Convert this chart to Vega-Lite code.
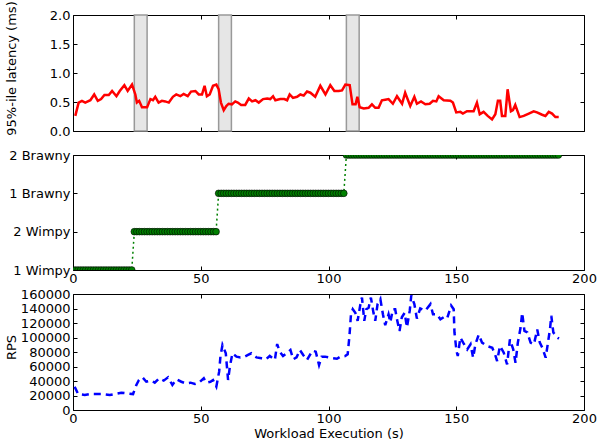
{
"$schema":"https://vega.github.io/schema/vega-lite/v6.json",
"background":"white",
"padding":{"left":4,"top":0,"right":0,"bottom":0},
"config":{"font":"DejaVu Sans","view":{"stroke":"black","strokeWidth":1},
"axis":{"labelFont":"DejaVu Sans","titleFont":"DejaVu Sans","labelFontSize":13,"titleFontSize":13,"titleFontWeight":"normal","labelColor":"black","titleColor":"black","domain":false,"grid":false,"tickColor":"black","tickSize":-4,"tickWidth":1,"labelPadding":5,"minExtent":0,"labelFlush":false,"labelOverlap":false},
"axisLeft":{"labelPadding":7},
"axisBottom":{"labelPadding":6}},
"bounds":"flush",
"spacing":24,
"datasets":{
"spans":[{"start":24,"end":29},{"start":57,"end":62},{"start":107,"end":112}],
"latency":[{"t":0.9,"ms":0.26},{"t":2.2,"ms":0.49},{"t":3.5,"ms":0.52},{"t":4.8,"ms":0.49},{"t":6.8,"ms":0.53},{"t":8.3,"ms":0.63},{"t":9.7,"ms":0.52},{"t":11,"ms":0.55},{"t":12.3,"ms":0.62},{"t":14,"ms":0.62},{"t":15.3,"ms":0.69},{"t":17,"ms":0.6},{"t":18.3,"ms":0.69},{"t":20.1,"ms":0.79},{"t":21.4,"ms":0.69},{"t":23.1,"ms":0.8},{"t":24.4,"ms":0.63},{"t":25,"ms":0.49},{"t":25.9,"ms":0.52},{"t":27,"ms":0.41},{"t":29,"ms":0.41},{"t":30.3,"ms":0.55},{"t":31.3,"ms":0.53},{"t":32.2,"ms":0.59},{"t":33.5,"ms":0.49},{"t":34.8,"ms":0.52},{"t":36.1,"ms":0.51},{"t":37.5,"ms":0.49},{"t":39.1,"ms":0.59},{"t":40.4,"ms":0.63},{"t":42,"ms":0.6},{"t":43.3,"ms":0.64},{"t":44.9,"ms":0.6},{"t":46.2,"ms":0.68},{"t":47.9,"ms":0.69},{"t":49.2,"ms":0.63},{"t":50.5,"ms":0.63},{"t":51.5,"ms":0.78},{"t":52.4,"ms":0.6},{"t":53.5,"ms":0.63},{"t":54.8,"ms":0.78},{"t":56.1,"ms":0.8},{"t":57,"ms":0.72},{"t":57.9,"ms":0.49},{"t":59,"ms":0.36},{"t":60,"ms":0.43},{"t":60.9,"ms":0.47},{"t":62.2,"ms":0.46},{"t":63.5,"ms":0.51},{"t":64.5,"ms":0.49},{"t":65.8,"ms":0.45},{"t":67.4,"ms":0.45},{"t":68.8,"ms":0.56},{"t":70.1,"ms":0.51},{"t":71.4,"ms":0.53},{"t":72.7,"ms":0.49},{"t":74.4,"ms":0.55},{"t":76,"ms":0.56},{"t":77.2,"ms":0.55},{"t":78.3,"ms":0.6},{"t":79.2,"ms":0.53},{"t":81.1,"ms":0.55},{"t":82.7,"ms":0.55},{"t":83.8,"ms":0.53},{"t":84.8,"ms":0.63},{"t":86.1,"ms":0.57},{"t":87.7,"ms":0.59},{"t":89,"ms":0.63},{"t":90.3,"ms":0.61},{"t":91.6,"ms":0.68},{"t":92.9,"ms":0.66},{"t":94.8,"ms":0.59},{"t":96.8,"ms":0.78},{"t":98.8,"ms":0.63},{"t":100.7,"ms":0.79},{"t":102.3,"ms":0.69},{"t":104,"ms":0.69},{"t":105.3,"ms":0.7},{"t":106.6,"ms":0.8},{"t":108.3,"ms":0.79},{"t":109.4,"ms":0.46},{"t":110.6,"ms":0.46},{"t":111.3,"ms":0.59},{"t":112.2,"ms":0.41},{"t":113.8,"ms":0.39},{"t":115.7,"ms":0.4},{"t":117,"ms":0.46},{"t":118.3,"ms":0.4},{"t":119.6,"ms":0.4},{"t":120.9,"ms":0.53},{"t":122.2,"ms":0.54},{"t":123.5,"ms":0.55},{"t":125.2,"ms":0.47},{"t":126.8,"ms":0.6},{"t":128.8,"ms":0.47},{"t":130,"ms":0.66},{"t":132,"ms":0.43},{"t":133.6,"ms":0.59},{"t":134.6,"ms":0.47},{"t":136.2,"ms":0.51},{"t":137.9,"ms":0.46},{"t":139.6,"ms":0.47},{"t":140.9,"ms":0.52},{"t":142.2,"ms":0.51},{"t":143.1,"ms":0.6},{"t":145.1,"ms":0.53},{"t":147.7,"ms":0.52},{"t":148.7,"ms":0.49},{"t":150,"ms":0.32},{"t":151.6,"ms":0.33},{"t":152.6,"ms":0.3},{"t":154.2,"ms":0.34},{"t":156.8,"ms":0.34},{"t":158.1,"ms":0.49},{"t":159.2,"ms":0.29},{"t":160.7,"ms":0.33},{"t":162.3,"ms":0.26},{"t":164,"ms":0.2},{"t":165.3,"ms":0.29},{"t":166.3,"ms":0.52},{"t":167.2,"ms":0.52},{"t":167.9,"ms":0.26},{"t":169.2,"ms":0.26},{"t":170.1,"ms":0.72},{"t":171.4,"ms":0.34},{"t":172.2,"ms":0.36},{"t":173.1,"ms":0.45},{"t":174.8,"ms":0.24},{"t":176.4,"ms":0.26},{"t":178.4,"ms":0.3},{"t":180.3,"ms":0.34},{"t":181.6,"ms":0.32},{"t":183.6,"ms":0.28},{"t":184.9,"ms":0.26},{"t":186.2,"ms":0.33},{"t":187.5,"ms":0.3},{"t":188.8,"ms":0.24},{"t":190.1,"ms":0.24}],
"rps":[{"t":0.65,"rps":32200},{"t":2,"rps":22000},{"t":4.6,"rps":20700},{"t":6.5,"rps":22000},{"t":9.1,"rps":22000},{"t":11.7,"rps":22000},{"t":14.4,"rps":20700},{"t":16.3,"rps":22000},{"t":18.9,"rps":23900},{"t":20.9,"rps":23000},{"t":23.5,"rps":22000},{"t":24.8,"rps":34500},{"t":25.8,"rps":41400},{"t":27.2,"rps":45000},{"t":28.7,"rps":39000},{"t":30.7,"rps":40500},{"t":32,"rps":37700},{"t":33.7,"rps":43700},{"t":35.5,"rps":40500},{"t":37.2,"rps":45000},{"t":38.9,"rps":34500},{"t":40.5,"rps":42300},{"t":42.4,"rps":39000},{"t":44.1,"rps":36800},{"t":46,"rps":37700},{"t":47.7,"rps":35900},{"t":49.3,"rps":37700},{"t":51.2,"rps":43700},{"t":52.2,"rps":37700},{"t":53.8,"rps":39000},{"t":54.8,"rps":41400},{"t":56.1,"rps":32200},{"t":57.2,"rps":52900},{"t":57.7,"rps":73600},{"t":58.5,"rps":89700},{"t":59.8,"rps":78200},{"t":60.7,"rps":41400},{"t":61.4,"rps":59800},{"t":62.4,"rps":78200},{"t":64,"rps":73600},{"t":65.5,"rps":72600},{"t":67.2,"rps":73600},{"t":68.5,"rps":75900},{"t":69.8,"rps":78200},{"t":71.8,"rps":72600},{"t":73.8,"rps":71300},{"t":75.5,"rps":69900},{"t":77,"rps":74500},{"t":79,"rps":69000},{"t":79.9,"rps":91000},{"t":80.9,"rps":80500},{"t":82.2,"rps":74500},{"t":83.6,"rps":78200},{"t":85.1,"rps":82800},{"t":86.2,"rps":69900},{"t":87.5,"rps":72600},{"t":88.8,"rps":82800},{"t":90.1,"rps":75900},{"t":91.6,"rps":69000},{"t":93.7,"rps":81800},{"t":95,"rps":80500},{"t":96.3,"rps":62100},{"t":97.3,"rps":73600},{"t":98.6,"rps":73600},{"t":100.7,"rps":72100},{"t":103.3,"rps":70700},{"t":104.6,"rps":73500},{"t":106.5,"rps":74400},{"t":107.5,"rps":76700},{"t":108.2,"rps":102000},{"t":108.8,"rps":132000},{"t":109.5,"rps":139000},{"t":110.5,"rps":134000},{"t":111.4,"rps":123000},{"t":112.4,"rps":144000},{"t":113.1,"rps":155000},{"t":114,"rps":123000},{"t":114.8,"rps":139000},{"t":115.7,"rps":141000},{"t":116.6,"rps":155000},{"t":117.6,"rps":134000},{"t":118.3,"rps":123000},{"t":119.2,"rps":146000},{"t":120.3,"rps":153000},{"t":121.3,"rps":132000},{"t":122.2,"rps":117000},{"t":123.5,"rps":132000},{"t":124.2,"rps":121000},{"t":125.2,"rps":139000},{"t":126.1,"rps":139000},{"t":126.8,"rps":125000},{"t":127.8,"rps":109000},{"t":128.7,"rps":128000},{"t":129.8,"rps":134000},{"t":130.7,"rps":114000},{"t":131.8,"rps":137000},{"t":132.4,"rps":158000},{"t":133.6,"rps":146000},{"t":134.6,"rps":126000},{"t":135.9,"rps":140000},{"t":137.9,"rps":137000},{"t":139.9,"rps":146000},{"t":140.9,"rps":132000},{"t":142.5,"rps":132000},{"t":143.8,"rps":125000},{"t":145.1,"rps":128000},{"t":146.4,"rps":126000},{"t":148,"rps":144000},{"t":149,"rps":139000},{"t":149.3,"rps":107000},{"t":150.1,"rps":81300},{"t":150.6,"rps":74400},{"t":151.6,"rps":99800},{"t":152.7,"rps":92900},{"t":154.3,"rps":83600},{"t":155.6,"rps":90600},{"t":156.6,"rps":72100},{"t":157.5,"rps":90600},{"t":158.8,"rps":104000},{"t":160.1,"rps":92900},{"t":162.1,"rps":88200},{"t":164.1,"rps":85900},{"t":165.4,"rps":74400},{"t":166,"rps":67500},{"t":167.1,"rps":88200},{"t":168.6,"rps":79000},{"t":169.9,"rps":62800},{"t":171,"rps":97500},{"t":172.3,"rps":83600},{"t":173.2,"rps":65100},{"t":174.1,"rps":92900},{"t":175.2,"rps":114000},{"t":175.8,"rps":134000},{"t":176.7,"rps":109000},{"t":177.8,"rps":107000},{"t":179.1,"rps":92900},{"t":180.4,"rps":90600},{"t":181.7,"rps":111000},{"t":182.7,"rps":92900},{"t":183.7,"rps":85900},{"t":185,"rps":72100},{"t":185.9,"rps":92900},{"t":186.7,"rps":112000},{"t":187.2,"rps":130000},{"t":188,"rps":107000},{"t":189.6,"rps":99800},{"t":190.2,"rps":98400}],
"states":[{"t":0,"cfg":"1 Wimpy"},{"t":1,"cfg":"1 Wimpy"},{"t":2,"cfg":"1 Wimpy"},{"t":3,"cfg":"1 Wimpy"},{"t":4,"cfg":"1 Wimpy"},{"t":5,"cfg":"1 Wimpy"},{"t":6,"cfg":"1 Wimpy"},{"t":7,"cfg":"1 Wimpy"},{"t":8,"cfg":"1 Wimpy"},{"t":9,"cfg":"1 Wimpy"},{"t":10,"cfg":"1 Wimpy"},{"t":11,"cfg":"1 Wimpy"},{"t":12,"cfg":"1 Wimpy"},{"t":13,"cfg":"1 Wimpy"},{"t":14,"cfg":"1 Wimpy"},{"t":15,"cfg":"1 Wimpy"},{"t":16,"cfg":"1 Wimpy"},{"t":17,"cfg":"1 Wimpy"},{"t":18,"cfg":"1 Wimpy"},{"t":19,"cfg":"1 Wimpy"},{"t":20,"cfg":"1 Wimpy"},{"t":21,"cfg":"1 Wimpy"},{"t":22,"cfg":"1 Wimpy"},{"t":23,"cfg":"1 Wimpy"},{"t":24,"cfg":"2 Wimpy"},{"t":25,"cfg":"2 Wimpy"},{"t":26,"cfg":"2 Wimpy"},{"t":27,"cfg":"2 Wimpy"},{"t":28,"cfg":"2 Wimpy"},{"t":29,"cfg":"2 Wimpy"},{"t":30,"cfg":"2 Wimpy"},{"t":31,"cfg":"2 Wimpy"},{"t":32,"cfg":"2 Wimpy"},{"t":33,"cfg":"2 Wimpy"},{"t":34,"cfg":"2 Wimpy"},{"t":35,"cfg":"2 Wimpy"},{"t":36,"cfg":"2 Wimpy"},{"t":37,"cfg":"2 Wimpy"},{"t":38,"cfg":"2 Wimpy"},{"t":39,"cfg":"2 Wimpy"},{"t":40,"cfg":"2 Wimpy"},{"t":41,"cfg":"2 Wimpy"},{"t":42,"cfg":"2 Wimpy"},{"t":43,"cfg":"2 Wimpy"},{"t":44,"cfg":"2 Wimpy"},{"t":45,"cfg":"2 Wimpy"},{"t":46,"cfg":"2 Wimpy"},{"t":47,"cfg":"2 Wimpy"},{"t":48,"cfg":"2 Wimpy"},{"t":49,"cfg":"2 Wimpy"},{"t":50,"cfg":"2 Wimpy"},{"t":51,"cfg":"2 Wimpy"},{"t":52,"cfg":"2 Wimpy"},{"t":53,"cfg":"2 Wimpy"},{"t":54,"cfg":"2 Wimpy"},{"t":55,"cfg":"2 Wimpy"},{"t":56,"cfg":"2 Wimpy"},{"t":57,"cfg":"1 Brawny"},{"t":58,"cfg":"1 Brawny"},{"t":59,"cfg":"1 Brawny"},{"t":60,"cfg":"1 Brawny"},{"t":61,"cfg":"1 Brawny"},{"t":62,"cfg":"1 Brawny"},{"t":63,"cfg":"1 Brawny"},{"t":64,"cfg":"1 Brawny"},{"t":65,"cfg":"1 Brawny"},{"t":66,"cfg":"1 Brawny"},{"t":67,"cfg":"1 Brawny"},{"t":68,"cfg":"1 Brawny"},{"t":69,"cfg":"1 Brawny"},{"t":70,"cfg":"1 Brawny"},{"t":71,"cfg":"1 Brawny"},{"t":72,"cfg":"1 Brawny"},{"t":73,"cfg":"1 Brawny"},{"t":74,"cfg":"1 Brawny"},{"t":75,"cfg":"1 Brawny"},{"t":76,"cfg":"1 Brawny"},{"t":77,"cfg":"1 Brawny"},{"t":78,"cfg":"1 Brawny"},{"t":79,"cfg":"1 Brawny"},{"t":80,"cfg":"1 Brawny"},{"t":81,"cfg":"1 Brawny"},{"t":82,"cfg":"1 Brawny"},{"t":83,"cfg":"1 Brawny"},{"t":84,"cfg":"1 Brawny"},{"t":85,"cfg":"1 Brawny"},{"t":86,"cfg":"1 Brawny"},{"t":87,"cfg":"1 Brawny"},{"t":88,"cfg":"1 Brawny"},{"t":89,"cfg":"1 Brawny"},{"t":90,"cfg":"1 Brawny"},{"t":91,"cfg":"1 Brawny"},{"t":92,"cfg":"1 Brawny"},{"t":93,"cfg":"1 Brawny"},{"t":94,"cfg":"1 Brawny"},{"t":95,"cfg":"1 Brawny"},{"t":96,"cfg":"1 Brawny"},{"t":97,"cfg":"1 Brawny"},{"t":98,"cfg":"1 Brawny"},{"t":99,"cfg":"1 Brawny"},{"t":100,"cfg":"1 Brawny"},{"t":101,"cfg":"1 Brawny"},{"t":102,"cfg":"1 Brawny"},{"t":103,"cfg":"1 Brawny"},{"t":104,"cfg":"1 Brawny"},{"t":105,"cfg":"1 Brawny"},{"t":106,"cfg":"1 Brawny"},{"t":107,"cfg":"2 Brawny"},{"t":108,"cfg":"2 Brawny"},{"t":109,"cfg":"2 Brawny"},{"t":110,"cfg":"2 Brawny"},{"t":111,"cfg":"2 Brawny"},{"t":112,"cfg":"2 Brawny"},{"t":113,"cfg":"2 Brawny"},{"t":114,"cfg":"2 Brawny"},{"t":115,"cfg":"2 Brawny"},{"t":116,"cfg":"2 Brawny"},{"t":117,"cfg":"2 Brawny"},{"t":118,"cfg":"2 Brawny"},{"t":119,"cfg":"2 Brawny"},{"t":120,"cfg":"2 Brawny"},{"t":121,"cfg":"2 Brawny"},{"t":122,"cfg":"2 Brawny"},{"t":123,"cfg":"2 Brawny"},{"t":124,"cfg":"2 Brawny"},{"t":125,"cfg":"2 Brawny"},{"t":126,"cfg":"2 Brawny"},{"t":127,"cfg":"2 Brawny"},{"t":128,"cfg":"2 Brawny"},{"t":129,"cfg":"2 Brawny"},{"t":130,"cfg":"2 Brawny"},{"t":131,"cfg":"2 Brawny"},{"t":132,"cfg":"2 Brawny"},{"t":133,"cfg":"2 Brawny"},{"t":134,"cfg":"2 Brawny"},{"t":135,"cfg":"2 Brawny"},{"t":136,"cfg":"2 Brawny"},{"t":137,"cfg":"2 Brawny"},{"t":138,"cfg":"2 Brawny"},{"t":139,"cfg":"2 Brawny"},{"t":140,"cfg":"2 Brawny"},{"t":141,"cfg":"2 Brawny"},{"t":142,"cfg":"2 Brawny"},{"t":143,"cfg":"2 Brawny"},{"t":144,"cfg":"2 Brawny"},{"t":145,"cfg":"2 Brawny"},{"t":146,"cfg":"2 Brawny"},{"t":147,"cfg":"2 Brawny"},{"t":148,"cfg":"2 Brawny"},{"t":149,"cfg":"2 Brawny"},{"t":150,"cfg":"2 Brawny"},{"t":151,"cfg":"2 Brawny"},{"t":152,"cfg":"2 Brawny"},{"t":153,"cfg":"2 Brawny"},{"t":154,"cfg":"2 Brawny"},{"t":155,"cfg":"2 Brawny"},{"t":156,"cfg":"2 Brawny"},{"t":157,"cfg":"2 Brawny"},{"t":158,"cfg":"2 Brawny"},{"t":159,"cfg":"2 Brawny"},{"t":160,"cfg":"2 Brawny"},{"t":161,"cfg":"2 Brawny"},{"t":162,"cfg":"2 Brawny"},{"t":163,"cfg":"2 Brawny"},{"t":164,"cfg":"2 Brawny"},{"t":165,"cfg":"2 Brawny"},{"t":166,"cfg":"2 Brawny"},{"t":167,"cfg":"2 Brawny"},{"t":168,"cfg":"2 Brawny"},{"t":169,"cfg":"2 Brawny"},{"t":170,"cfg":"2 Brawny"},{"t":171,"cfg":"2 Brawny"},{"t":172,"cfg":"2 Brawny"},{"t":173,"cfg":"2 Brawny"},{"t":174,"cfg":"2 Brawny"},{"t":175,"cfg":"2 Brawny"},{"t":176,"cfg":"2 Brawny"},{"t":177,"cfg":"2 Brawny"},{"t":178,"cfg":"2 Brawny"},{"t":179,"cfg":"2 Brawny"},{"t":180,"cfg":"2 Brawny"},{"t":181,"cfg":"2 Brawny"},{"t":182,"cfg":"2 Brawny"},{"t":183,"cfg":"2 Brawny"},{"t":184,"cfg":"2 Brawny"},{"t":185,"cfg":"2 Brawny"},{"t":186,"cfg":"2 Brawny"},{"t":187,"cfg":"2 Brawny"},{"t":188,"cfg":"2 Brawny"},{"t":189,"cfg":"2 Brawny"},{"t":190,"cfg":"2 Brawny"}]
},
"vconcat":[
{"width":511,"height":116,
 "layer":[
  {"data":{"name":"spans"},"mark":{"type":"rect","fill":"#e6e6e6","stroke":"#999999","strokeWidth":1.5},
   "encoding":{"x":{"field":"start","type":"quantitative","scale":{"domain":[0,200]},"axis":{"orient":"bottom","values":[0,50,100,150,200],"labels":false,"title":null}},"x2":{"field":"end"}}},
  {"data":{"name":"latency"},"mark":{"type":"line","color":"#ff0000","strokeWidth":2.5},
   "encoding":{"x":{"field":"t","type":"quantitative","scale":{"domain":[0,200]},"axis":{"orient":"top","values":[0,50,100,150,200],"labels":false,"title":null}},
   "y":{"field":"ms","type":"quantitative","scale":{"domain":[0,2]},"axis":{"orient":"left","values":[0,0.5,1,1.5,2],"format":".1f","title":"95%-ile latency (ms)","titlePadding":31,"titleY":53,"titleAlign":"center","titleAngle":270}}}},
  {"data":{"name":"latency"},"mark":{"type":"line","opacity":0},
   "encoding":{"x":{"field":"t","type":"quantitative","axis":null},
   "y":{"field":"ms","type":"quantitative","axis":{"orient":"right","values":[0,0.5,1,1.5,2],"labels":false,"title":null}}}}
 ],
 "resolve":{"axis":{"x":"independent","y":"independent"}}},
{"width":511,"height":115,
 "layer":[
  {"data":{"name":"states"},"mark":{"type":"line","color":"#008000","strokeWidth":1.5,"strokeDash":[2,3],"clip":true},
   "encoding":{"x":{"field":"t","type":"quantitative","scale":{"domain":[0,200]},"axis":{"orient":"bottom","values":[0,50,100,150,200],"title":null}},
   "y":{"field":"cfg","type":"ordinal","scale":{"type":"point","padding":0,"domain":["2 Brawny","1 Brawny","2 Wimpy","1 Wimpy"]},"axis":{"orient":"left","title":null}},
   "order":{"field":"t","type":"quantitative"}}},
  {"data":{"name":"states"},"mark":{"type":"point","shape":"circle","filled":true,"fill":"#008000","stroke":"#000000","strokeWidth":0.6,"size":45,"opacity":1,"clip":true},
   "encoding":{"x":{"field":"t","type":"quantitative","axis":{"orient":"top","values":[0,50,100,150,200],"labels":false,"title":null}},
   "y":{"field":"cfg","type":"ordinal","axis":{"orient":"right","labels":false,"title":null}}}}
 ],
 "resolve":{"axis":{"x":"independent","y":"independent"}}},
{"width":511,"height":116,
 "layer":[
  {"data":{"name":"rps"},"mark":{"type":"line","color":"#0000ff","strokeWidth":2.5,"strokeDash":[7,5]},
   "encoding":{"x":{"field":"t","type":"quantitative","scale":{"domain":[0,200]},"axis":{"orient":"bottom","values":[0,50,100,150,200],"title":"Workload Execution (s)","titlePadding":2}},
   "y":{"field":"rps","type":"quantitative","scale":{"domain":[0,160000]},"axis":{"orient":"left","values":[0,20000,40000,60000,80000,100000,120000,140000,160000],"format":"d","title":"RPS","titlePadding":2,"titleY":53,"titleAlign":"center","titleAngle":270}}}},
  {"data":{"name":"rps"},"mark":{"type":"line","opacity":0},
   "encoding":{"x":{"field":"t","type":"quantitative","axis":{"orient":"top","values":[0,50,100,150,200],"labels":false,"title":null}},
   "y":{"field":"rps","type":"quantitative","axis":{"orient":"right","values":[0,20000,40000,60000,80000,100000,120000,140000,160000],"labels":false,"title":null}}}}
 ],
 "resolve":{"axis":{"x":"independent","y":"independent"}}}
]
}
